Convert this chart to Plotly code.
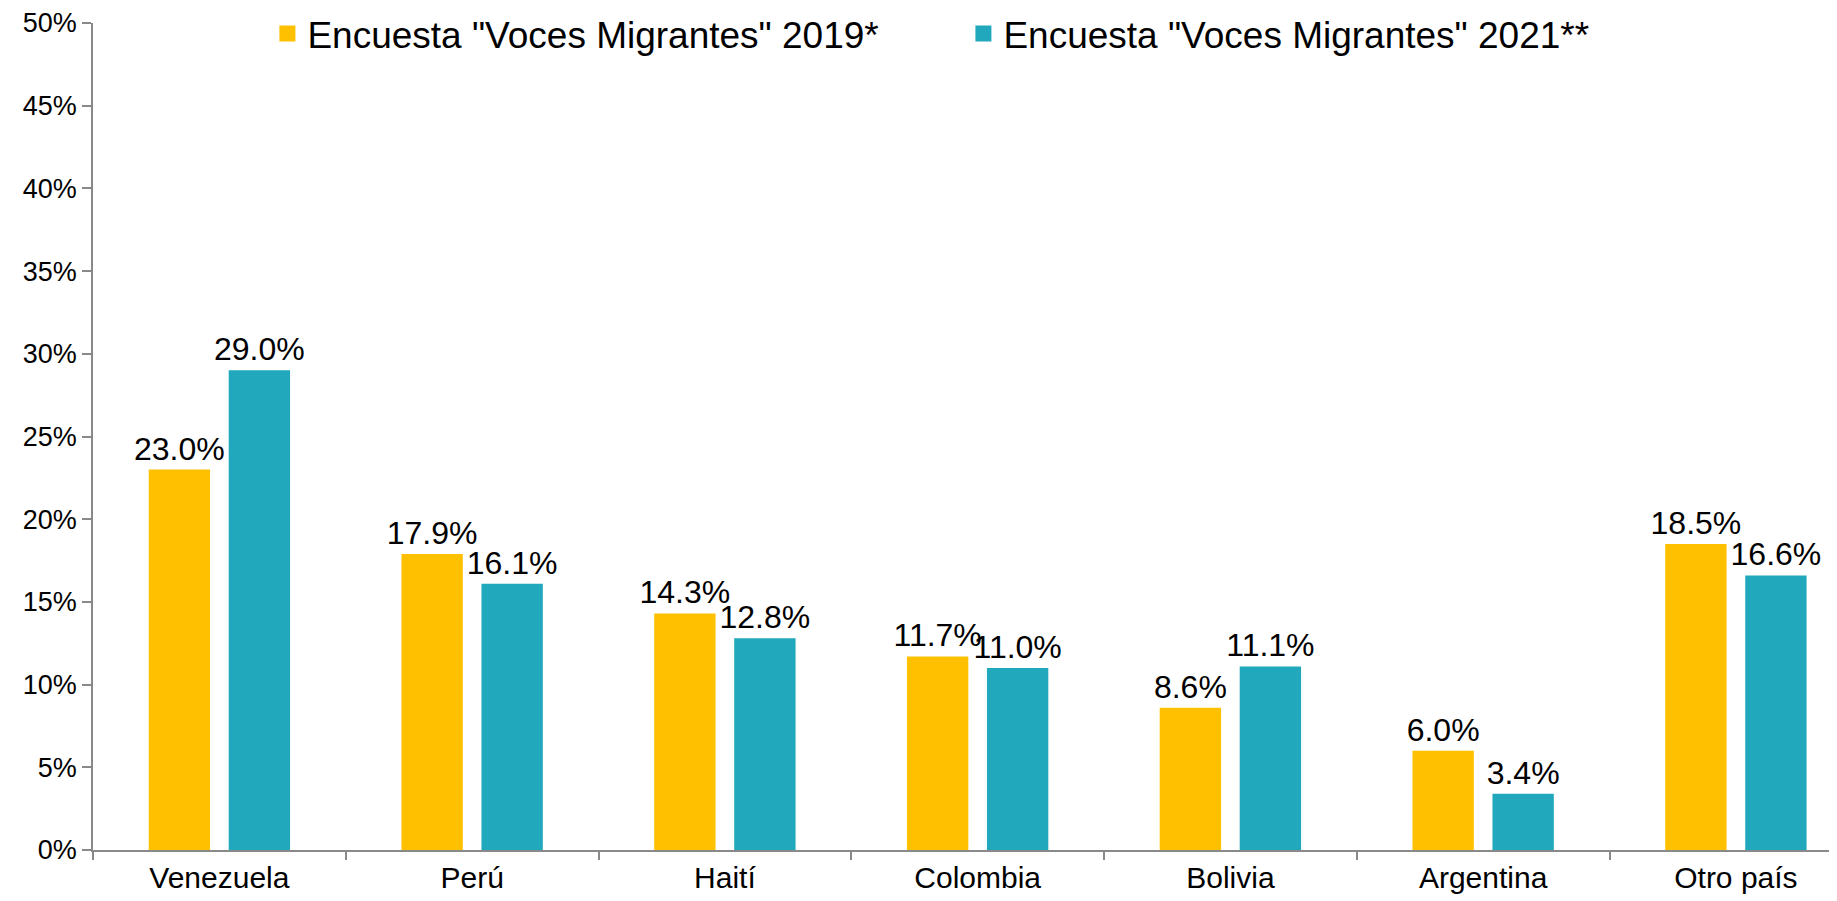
import plotly.graph_objects as go

categories = ["Venezuela", "Perú", "Haití", "Colombia", "Bolivia", "Argentina", "Otro país"]
series_2019 = [0.230, 0.179, 0.143, 0.117, 0.086, 0.060, 0.185]
series_2021 = [0.290, 0.161, 0.128, 0.110, 0.111, 0.034, 0.166]
name_2019 = 'Encuesta "Voces Migrantes" 2019*'
name_2021 = 'Encuesta "Voces Migrantes" 2021**'
y_ticks = [0, 0.05, 0.10, 0.15, 0.20, 0.25, 0.30, 0.35, 0.40, 0.45, 0.50]

YELLOW = "#FFC000"
TEAL = "#21A8BC"
FONT = "Liberation Sans, Arial, sans-serif"

fig = go.Figure()
for name, vals, col in [(name_2019, series_2019, YELLOW), (name_2021, series_2021, TEAL)]:
    fig.add_trace(go.Bar(
        x=categories, y=vals, name=name, marker_color=col,
        marker_line_width=0,
        texttemplate="%{y:.1%}", textposition="outside",
        textfont=dict(size=32, color="black", family=FONT),
        constraintext="none", cliponaxis=False, showlegend=False,
    ))
# legend entries
for name, col in [(name_2019, YELLOW), (name_2021, TEAL)]:
    fig.add_trace(go.Scatter(
        x=[None], y=[None], mode="markers", name=name,
        marker=dict(symbol="square", size=19, color=col),
    ))

fig.update_layout(
    width=1829, height=893,
    paper_bgcolor="white", plot_bgcolor="white",
    margin=dict(l=85, r=0, t=15, b=51, autoexpand=False),
    barmode="group", bargap=0.367, bargroupgap=0.233,
    font=dict(family=FONT, size=28, color="black"),
    legend=dict(
        orientation="h", x=0.100, y=0.971, xanchor="left", yanchor="middle",
        xref="paper", yref="container",
        font=dict(size=37, color="black"),
        entrywidth=651, entrywidthmode="pixels",
        bgcolor="rgba(0,0,0,0)", itemclick=False,
    ),
    showlegend=True,
)
fig.update_xaxes(
    range=[-0.5, 6.4], showline=True, linecolor="#898989", linewidth=1.5,
    ticks="outside", tickson="boundaries", ticklen=8, tickcolor="#898989", tickwidth=1.5,
    showgrid=False, tickfont=dict(size=30), fixedrange=True, automargin=False,
)
fig.update_yaxes(
    range=[0, 0.5], tickvals=y_ticks, tickformat=".0%",
    showline=True, linecolor="#898989", linewidth=1.5,
    ticks="outside", ticklen=9, tickcolor="#898989", tickwidth=1.5,
    showgrid=False, zeroline=False, tickfont=dict(size=27),
    ticklabelstandoff=0, fixedrange=True, automargin=False,
)
fig.write_html("out.html")
